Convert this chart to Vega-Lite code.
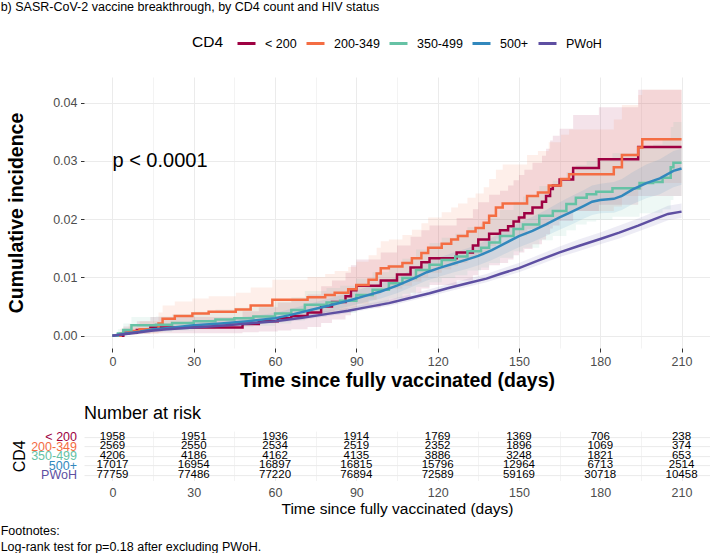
{
  "$schema": "https://vega.github.io/schema/vega-lite/v6.json",
  "background": "white",
  "padding": 0,
  "config": {
    "font": "Liberation Sans",
    "view": {"stroke": null},
    "axis": {"domain": false, "labelFont": "Liberation Sans", "titleFont": "Liberation Sans"},
    "legend": {"labelFont": "Liberation Sans", "titleFont": "Liberation Sans", "layout": {"top": {"anchor": "middle"}}},
    "title": {"font": "Liberation Sans"}
  },
  "title": {"text": "b) SASR-CoV-2 vaccine breakthrough, by CD4 count and HIV status", "anchor": "start", "frame": "bounds", "fontSize": 12.5, "fontWeight": "normal", "color": "#000000", "offset": 20, "dx": 0},
  "datasets": {
    "km": [
      {"g":"< 200","t":0,"v":0,"lo":0,"hi":0},
      {"g":"< 200","t":4,"v":0.0005,"lo":0.00015,"hi":0.0016},
      {"g":"< 200","t":9,"v":0.001,"lo":0.0003,"hi":0.0025},
      {"g":"< 200","t":14,"v":0.0014,"lo":0.00042,"hi":0.0032},
      {"g":"< 200","t":48,"v":0.002,"lo":0.0006,"hi":0.0042},
      {"g":"< 200","t":54,"v":0.0025,"lo":0.00075,"hi":0.0049},
      {"g":"< 200","t":61,"v":0.003,"lo":0.0009,"hi":0.0057},
      {"g":"< 200","t":66,"v":0.0034,"lo":0.0011,"hi":0.0062},
      {"g":"< 200","t":72,"v":0.004,"lo":0.0015,"hi":0.0071},
      {"g":"< 200","t":77,"v":0.005,"lo":0.0022,"hi":0.0085},
      {"g":"< 200","t":81,"v":0.0058,"lo":0.0028,"hi":0.0095},
      {"g":"< 200","t":86,"v":0.0068,"lo":0.0035,"hi":0.0108},
      {"g":"< 200","t":88,"v":0.0078,"lo":0.0043,"hi":0.0121},
      {"g":"< 200","t":90,"v":0.0086,"lo":0.0049,"hi":0.0131},
      {"g":"< 200","t":99,"v":0.0095,"lo":0.0056,"hi":0.0143},
      {"g":"< 200","t":105,"v":0.0105,"lo":0.0064,"hi":0.0155},
      {"g":"< 200","t":110,"v":0.0117,"lo":0.0074,"hi":0.017},
      {"g":"< 200","t":114,"v":0.0126,"lo":0.0081,"hi":0.0181},
      {"g":"< 200","t":117,"v":0.0133,"lo":0.0087,"hi":0.0189},
      {"g":"< 200","t":127,"v":0.0143,"lo":0.0095,"hi":0.0202},
      {"g":"< 200","t":133,"v":0.0155,"lo":0.0104,"hi":0.0217},
      {"g":"< 200","t":135,"v":0.0165,"lo":0.0113,"hi":0.0229},
      {"g":"< 200","t":139,"v":0.0175,"lo":0.0121,"hi":0.0242},
      {"g":"< 200","t":143,"v":0.0181,"lo":0.0125,"hi":0.0249},
      {"g":"< 200","t":146,"v":0.0188,"lo":0.0131,"hi":0.0258},
      {"g":"< 200","t":148,"v":0.0196,"lo":0.0138,"hi":0.0267},
      {"g":"< 200","t":150,"v":0.0203,"lo":0.0143,"hi":0.0276},
      {"g":"< 200","t":152,"v":0.021,"lo":0.0149,"hi":0.0285},
      {"g":"< 200","t":155,"v":0.022,"lo":0.0157,"hi":0.0297},
      {"g":"< 200","t":158.5,"v":0.023,"lo":0.0165,"hi":0.0309},
      {"g":"< 200","t":160,"v":0.024,"lo":0.0174,"hi":0.0321},
      {"g":"< 200","t":161.5,"v":0.0252,"lo":0.0184,"hi":0.0335},
      {"g":"< 200","t":162.5,"v":0.0258,"lo":0.0189,"hi":0.0343},
      {"g":"< 200","t":165,"v":0.0268,"lo":0.0197,"hi":0.0355},
      {"g":"< 200","t":170,"v":0.0288,"lo":0.0214,"hi":0.0379},
      {"g":"< 200","t":179.5,"v":0.0303,"lo":0.0225,"hi":0.0392},
      {"g":"< 200","t":194,"v":0.0324,"lo":0.024,"hi":0.0422},
      {"g":"< 200","t":210,"v":0.0324,"lo":0.0236,"hi":0.0422},
      {"g":"200-349","t":0,"v":0,"lo":0,"hi":0},
      {"g":"200-349","t":3,"v":0.0004,"lo":0.00012,"hi":0.00125},
      {"g":"200-349","t":6,"v":0.0008,"lo":0.00024,"hi":0.002},
      {"g":"200-349","t":10,"v":0.0011,"lo":0.00033,"hi":0.0025},
      {"g":"200-349","t":17,"v":0.0021,"lo":0.0006,"hi":0.004},
      {"g":"200-349","t":18.5,"v":0.0029,"lo":0.001,"hi":0.0052},
      {"g":"200-349","t":23,"v":0.0034,"lo":0.0014,"hi":0.0059},
      {"g":"200-349","t":29.5,"v":0.0038,"lo":0.0017,"hi":0.0064},
      {"g":"200-349","t":35.5,"v":0.0041,"lo":0.0019,"hi":0.0068},
      {"g":"200-349","t":45.5,"v":0.0045,"lo":0.0022,"hi":0.0074},
      {"g":"200-349","t":51,"v":0.0052,"lo":0.0027,"hi":0.0083},
      {"g":"200-349","t":59,"v":0.0062,"lo":0.0035,"hi":0.0096},
      {"g":"200-349","t":72,"v":0.0066,"lo":0.0038,"hi":0.0101},
      {"g":"200-349","t":78.5,"v":0.007,"lo":0.0041,"hi":0.0106},
      {"g":"200-349","t":82,"v":0.0074,"lo":0.0044,"hi":0.0111},
      {"g":"200-349","t":87,"v":0.008,"lo":0.0049,"hi":0.0118},
      {"g":"200-349","t":90,"v":0.0087,"lo":0.0055,"hi":0.0127},
      {"g":"200-349","t":94.5,"v":0.0096,"lo":0.0062,"hi":0.0138},
      {"g":"200-349","t":97.5,"v":0.0107,"lo":0.0071,"hi":0.0151},
      {"g":"200-349","t":99,"v":0.0116,"lo":0.0079,"hi":0.0162},
      {"g":"200-349","t":102,"v":0.0119,"lo":0.0081,"hi":0.0165},
      {"g":"200-349","t":107,"v":0.0125,"lo":0.0086,"hi":0.0173},
      {"g":"200-349","t":110.5,"v":0.0133,"lo":0.0093,"hi":0.0182},
      {"g":"200-349","t":114,"v":0.0142,"lo":0.0101,"hi":0.0193},
      {"g":"200-349","t":116.5,"v":0.0151,"lo":0.0108,"hi":0.0203},
      {"g":"200-349","t":121.5,"v":0.0158,"lo":0.0114,"hi":0.0212},
      {"g":"200-349","t":125,"v":0.0165,"lo":0.012,"hi":0.022},
      {"g":"200-349","t":127.5,"v":0.0171,"lo":0.0125,"hi":0.0227},
      {"g":"200-349","t":131,"v":0.0179,"lo":0.0132,"hi":0.0237},
      {"g":"200-349","t":134,"v":0.0185,"lo":0.0137,"hi":0.0244},
      {"g":"200-349","t":137,"v":0.0194,"lo":0.0144,"hi":0.0255},
      {"g":"200-349","t":139,"v":0.0206,"lo":0.0154,"hi":0.0269},
      {"g":"200-349","t":141.5,"v":0.022,"lo":0.0167,"hi":0.0285},
      {"g":"200-349","t":144,"v":0.0227,"lo":0.0172,"hi":0.0294},
      {"g":"200-349","t":153,"v":0.024,"lo":0.0183,"hi":0.031},
      {"g":"200-349","t":157,"v":0.0246,"lo":0.0188,"hi":0.0317},
      {"g":"200-349","t":161,"v":0.0258,"lo":0.0198,"hi":0.0332},
      {"g":"200-349","t":165.5,"v":0.0269,"lo":0.0207,"hi":0.0345},
      {"g":"200-349","t":168.5,"v":0.0277,"lo":0.0214,"hi":0.0354},
      {"g":"200-349","t":185,"v":0.0289,"lo":0.0222,"hi":0.0371},
      {"g":"200-349","t":188,"v":0.031,"lo":0.024,"hi":0.0396},
      {"g":"200-349","t":194,"v":0.0323,"lo":0.025,"hi":0.0413},
      {"g":"200-349","t":195.5,"v":0.0337,"lo":0.0262,"hi":0.0422},
      {"g":"200-349","t":210,"v":0.0337,"lo":0.0262,"hi":0.0422},
      {"g":"350-499","t":0,"v":0,"lo":0,"hi":0},
      {"g":"350-499","t":2,"v":0.0004,"lo":0.00012,"hi":0.0011},
      {"g":"350-499","t":4,"v":0.001,"lo":0.0003,"hi":0.0021},
      {"g":"350-499","t":7,"v":0.0018,"lo":0.0006,"hi":0.0032},
      {"g":"350-499","t":16,"v":0.0019,"lo":0.0007,"hi":0.0033},
      {"g":"350-499","t":22,"v":0.0022,"lo":0.0009,"hi":0.0037},
      {"g":"350-499","t":30,"v":0.0025,"lo":0.0011,"hi":0.0041},
      {"g":"350-499","t":38,"v":0.0028,"lo":0.0014,"hi":0.0045},
      {"g":"350-499","t":45,"v":0.003,"lo":0.0015,"hi":0.0048},
      {"g":"350-499","t":52,"v":0.0033,"lo":0.0017,"hi":0.0052},
      {"g":"350-499","t":60,"v":0.0038,"lo":0.0021,"hi":0.0059},
      {"g":"350-499","t":66,"v":0.0044,"lo":0.0026,"hi":0.0066},
      {"g":"350-499","t":71,"v":0.0053,"lo":0.0033,"hi":0.0077},
      {"g":"350-499","t":79,"v":0.0057,"lo":0.0037,"hi":0.0082},
      {"g":"350-499","t":84,"v":0.006,"lo":0.0039,"hi":0.0086},
      {"g":"350-499","t":90,"v":0.007,"lo":0.0047,"hi":0.0098},
      {"g":"350-499","t":96,"v":0.0079,"lo":0.0055,"hi":0.0109},
      {"g":"350-499","t":102,"v":0.009,"lo":0.0064,"hi":0.0122},
      {"g":"350-499","t":107,"v":0.0099,"lo":0.0072,"hi":0.0132},
      {"g":"350-499","t":112,"v":0.0113,"lo":0.0084,"hi":0.0148},
      {"g":"350-499","t":117,"v":0.0122,"lo":0.0092,"hi":0.0159},
      {"g":"350-499","t":121.5,"v":0.013,"lo":0.0099,"hi":0.0168},
      {"g":"350-499","t":126.5,"v":0.0136,"lo":0.0104,"hi":0.0175},
      {"g":"350-499","t":131,"v":0.0145,"lo":0.0112,"hi":0.0186},
      {"g":"350-499","t":136,"v":0.0151,"lo":0.0117,"hi":0.0193},
      {"g":"350-499","t":139,"v":0.016,"lo":0.0125,"hi":0.0203},
      {"g":"350-499","t":143,"v":0.0171,"lo":0.0134,"hi":0.0216},
      {"g":"350-499","t":148,"v":0.0183,"lo":0.0145,"hi":0.023},
      {"g":"350-499","t":151.5,"v":0.0191,"lo":0.0151,"hi":0.0239},
      {"g":"350-499","t":157.5,"v":0.0206,"lo":0.0164,"hi":0.0257},
      {"g":"350-499","t":162.5,"v":0.0214,"lo":0.0171,"hi":0.0266},
      {"g":"350-499","t":167.5,"v":0.0226,"lo":0.0181,"hi":0.0281},
      {"g":"350-499","t":171,"v":0.0237,"lo":0.0191,"hi":0.0293},
      {"g":"350-499","t":175,"v":0.0243,"lo":0.0196,"hi":0.03},
      {"g":"350-499","t":178.5,"v":0.0247,"lo":0.0199,"hi":0.0305},
      {"g":"350-499","t":184.5,"v":0.0253,"lo":0.0204,"hi":0.0313},
      {"g":"350-499","t":194.5,"v":0.0262,"lo":0.021,"hi":0.0325},
      {"g":"350-499","t":199.5,"v":0.0264,"lo":0.0211,"hi":0.0328},
      {"g":"350-499","t":203,"v":0.0271,"lo":0.0217,"hi":0.0337},
      {"g":"350-499","t":206,"v":0.0289,"lo":0.0233,"hi":0.0358},
      {"g":"350-499","t":207,"v":0.0297,"lo":0.024,"hi":0.0367},
      {"g":"350-499","t":210,"v":0.0297,"lo":0.024,"hi":0.0367},
      {"g":"500+","t":0,"v":0,"lo":0,"hi":0},
      {"g":"500+","t":5,"v":0.0004,"lo":0.00013,"hi":0.0007},
      {"g":"500+","t":10,"v":0.0007,"lo":0.0003,"hi":0.0012},
      {"g":"500+","t":15,"v":0.0011,"lo":0.0006,"hi":0.0016},
      {"g":"500+","t":20,"v":0.0013,"lo":0.0008,"hi":0.0019},
      {"g":"500+","t":30,"v":0.0018,"lo":0.0012,"hi":0.0025},
      {"g":"500+","t":40,"v":0.0021,"lo":0.0015,"hi":0.0029},
      {"g":"500+","t":50,"v":0.0025,"lo":0.0018,"hi":0.0033},
      {"g":"500+","t":60,"v":0.003,"lo":0.0023,"hi":0.0039},
      {"g":"500+","t":65,"v":0.0035,"lo":0.0027,"hi":0.0045},
      {"g":"500+","t":72,"v":0.0043,"lo":0.0034,"hi":0.0054},
      {"g":"500+","t":80,"v":0.0052,"lo":0.0042,"hi":0.0064},
      {"g":"500+","t":87,"v":0.006,"lo":0.005,"hi":0.0073},
      {"g":"500+","t":93,"v":0.0068,"lo":0.0057,"hi":0.0082},
      {"g":"500+","t":99,"v":0.0076,"lo":0.0064,"hi":0.009},
      {"g":"500+","t":105,"v":0.0086,"lo":0.0073,"hi":0.0101},
      {"g":"500+","t":111,"v":0.0098,"lo":0.0085,"hi":0.0114},
      {"g":"500+","t":116,"v":0.0109,"lo":0.0095,"hi":0.0126},
      {"g":"500+","t":121,"v":0.0117,"lo":0.0102,"hi":0.0135},
      {"g":"500+","t":126,"v":0.0124,"lo":0.0109,"hi":0.0143},
      {"g":"500+","t":131,"v":0.0131,"lo":0.0115,"hi":0.015},
      {"g":"500+","t":135,"v":0.0137,"lo":0.0121,"hi":0.0157},
      {"g":"500+","t":140,"v":0.0147,"lo":0.013,"hi":0.0168},
      {"g":"500+","t":145,"v":0.0159,"lo":0.0141,"hi":0.0181},
      {"g":"500+","t":150,"v":0.0171,"lo":0.0152,"hi":0.0194},
      {"g":"500+","t":155,"v":0.018,"lo":0.0161,"hi":0.0204},
      {"g":"500+","t":160,"v":0.0191,"lo":0.0171,"hi":0.0216},
      {"g":"500+","t":165,"v":0.0203,"lo":0.0182,"hi":0.0229},
      {"g":"500+","t":170,"v":0.0214,"lo":0.0192,"hi":0.0241},
      {"g":"500+","t":174,"v":0.0223,"lo":0.0201,"hi":0.025},
      {"g":"500+","t":177,"v":0.023,"lo":0.0207,"hi":0.0258},
      {"g":"500+","t":180,"v":0.0233,"lo":0.021,"hi":0.0261},
      {"g":"500+","t":185,"v":0.0235,"lo":0.0211,"hi":0.0264},
      {"g":"500+","t":188,"v":0.024,"lo":0.0216,"hi":0.0269},
      {"g":"500+","t":192,"v":0.0251,"lo":0.0226,"hi":0.0281},
      {"g":"500+","t":197,"v":0.0262,"lo":0.0236,"hi":0.0294},
      {"g":"500+","t":202,"v":0.027,"lo":0.0243,"hi":0.0303},
      {"g":"500+","t":207,"v":0.0283,"lo":0.0255,"hi":0.0317},
      {"g":"500+","t":210,"v":0.0287,"lo":0.0259,"hi":0.0321},
      {"g":"PWoH","t":0,"v":0,"lo":0,"hi":0},
      {"g":"PWoH","t":5,"v":0.0003,"lo":0.0002,"hi":0.00043},
      {"g":"PWoH","t":10,"v":0.0006,"lo":0.00044,"hi":0.0008},
      {"g":"PWoH","t":15,"v":0.0009,"lo":0.0007,"hi":0.0011},
      {"g":"PWoH","t":20,"v":0.0011,"lo":0.0009,"hi":0.0014},
      {"g":"PWoH","t":30,"v":0.0014,"lo":0.0012,"hi":0.0017},
      {"g":"PWoH","t":40,"v":0.0017,"lo":0.0014,"hi":0.002},
      {"g":"PWoH","t":50,"v":0.0021,"lo":0.0018,"hi":0.0025},
      {"g":"PWoH","t":60,"v":0.0025,"lo":0.0022,"hi":0.0029},
      {"g":"PWoH","t":70,"v":0.0031,"lo":0.0027,"hi":0.0035},
      {"g":"PWoH","t":80,"v":0.0038,"lo":0.0034,"hi":0.0043},
      {"g":"PWoH","t":87,"v":0.0043,"lo":0.0039,"hi":0.0048},
      {"g":"PWoH","t":95,"v":0.005,"lo":0.0046,"hi":0.0056},
      {"g":"PWoH","t":102,"v":0.0056,"lo":0.0051,"hi":0.0062},
      {"g":"PWoH","t":109,"v":0.0064,"lo":0.0059,"hi":0.007},
      {"g":"PWoH","t":117,"v":0.0073,"lo":0.0068,"hi":0.008},
      {"g":"PWoH","t":124,"v":0.0082,"lo":0.0076,"hi":0.0089},
      {"g":"PWoH","t":131,"v":0.009,"lo":0.0084,"hi":0.0098},
      {"g":"PWoH","t":138,"v":0.0098,"lo":0.0092,"hi":0.0106},
      {"g":"PWoH","t":143,"v":0.0106,"lo":0.0099,"hi":0.0114},
      {"g":"PWoH","t":150,"v":0.0116,"lo":0.0109,"hi":0.0125},
      {"g":"PWoH","t":157,"v":0.0129,"lo":0.0121,"hi":0.0138},
      {"g":"PWoH","t":165,"v":0.0143,"lo":0.0135,"hi":0.0153},
      {"g":"PWoH","t":172,"v":0.0154,"lo":0.0145,"hi":0.0165},
      {"g":"PWoH","t":180,"v":0.0166,"lo":0.0157,"hi":0.0177},
      {"g":"PWoH","t":187,"v":0.0177,"lo":0.0167,"hi":0.0189},
      {"g":"PWoH","t":194,"v":0.0189,"lo":0.0179,"hi":0.0201},
      {"g":"PWoH","t":200,"v":0.02,"lo":0.0189,"hi":0.0213},
      {"g":"PWoH","t":205,"v":0.0209,"lo":0.0198,"hi":0.0223},
      {"g":"PWoH","t":210,"v":0.0213,"lo":0.0202,"hi":0.0227}
    ],
    "risk": [
      {"g":"< 200","t":0,"n":1958},{"g":"< 200","t":30,"n":1951},{"g":"< 200","t":60,"n":1936},{"g":"< 200","t":90,"n":1914},{"g":"< 200","t":120,"n":1769},{"g":"< 200","t":150,"n":1369},{"g":"< 200","t":180,"n":706},{"g":"< 200","t":210,"n":238},
      {"g":"200-349","t":0,"n":2569},{"g":"200-349","t":30,"n":2550},{"g":"200-349","t":60,"n":2534},{"g":"200-349","t":90,"n":2519},{"g":"200-349","t":120,"n":2352},{"g":"200-349","t":150,"n":1896},{"g":"200-349","t":180,"n":1069},{"g":"200-349","t":210,"n":374},
      {"g":"350-499","t":0,"n":4206},{"g":"350-499","t":30,"n":4186},{"g":"350-499","t":60,"n":4162},{"g":"350-499","t":90,"n":4135},{"g":"350-499","t":120,"n":3886},{"g":"350-499","t":150,"n":3248},{"g":"350-499","t":180,"n":1821},{"g":"350-499","t":210,"n":653},
      {"g":"500+","t":0,"n":17017},{"g":"500+","t":30,"n":16954},{"g":"500+","t":60,"n":16897},{"g":"500+","t":90,"n":16815},{"g":"500+","t":120,"n":15796},{"g":"500+","t":150,"n":12964},{"g":"500+","t":180,"n":6713},{"g":"500+","t":210,"n":2514},
      {"g":"PWoH","t":0,"n":77759},{"g":"PWoH","t":30,"n":77486},{"g":"PWoH","t":60,"n":77220},{"g":"PWoH","t":90,"n":76894},{"g":"PWoH","t":120,"n":72589},{"g":"PWoH","t":150,"n":59169},{"g":"PWoH","t":180,"n":30718},{"g":"PWoH","t":210,"n":10458}
    ],
    "pval": [{"label": "p < 0.0001"}]
  },
  "vconcat": [
    {
      "title": {"text": ["Footnotes:", "Log-rank test for p=0.18 after excluding PWoH."], "orient": "bottom", "anchor": "start", "frame": "bounds", "fontSize": 12.5, "fontWeight": "normal", "color": "#000000", "lineHeight": 16, "offset": 8, "dx": -6},
      "bounds": "flush",
      "spacing": 83.1,
      "vconcat": [
        {
          "width": 626,
          "height": 271,
          "layer": [
            {
              "data": {"name": "km"},
              "transform": [{"filter": "datum.g !== '500+' && datum.g !== 'PWoH'"}],
              "mark": {"type": "area", "interpolate": "step-after", "fillOpacity": 0.11},
              "encoding": {
                "x": {
                  "field": "t", "type": "quantitative",
                  "title": "Time since fully vaccinated (days)",
                  "scale": {"domain": [-10.5, 220.5], "nice": false, "zero": false},
                  "axis": {
                    "values": [0,15,30,45,60,75,90,105,120,135,150,165,180,195,210],
                    "format": "d",
                    "labelExpr": "datum.value % 30 === 0 ? datum.label : ''",
                    "labelOverlap": false, "labelFlush": false,
                    "grid": true,
                    "gridColor": {"condition": {"test": "datum.value % 30 === 0", "value": "#EBEBEB"}, "value": "#F3F3F3"},
                    "gridWidth": 1,
                    "tickSize": 4, "tickColor": "#333333",
                    "tickOpacity": {"condition": {"test": "datum.value % 30 === 0", "value": 1}, "value": 0},
                    "labelFontSize": 12.5, "labelColor": "#4D4D4D", "labelPadding": 3,
                    "titleFontSize": 19.5, "titleFontWeight": "bold", "titleColor": "#000000", "titlePadding": 4
                  }
                },
                "y": {
                  "field": "lo", "type": "quantitative", "title": "Cumulative incidence",
                  "scale": {"domain": [-0.0021, 0.0444], "nice": false, "zero": false},
                  "axis": {
                    "values": [0,0.005,0.01,0.015,0.02,0.025,0.03,0.035,0.04],
                    "labelExpr": "round(datum.value*200) % 2 === 0 ? format(datum.value, '.2f') : ''",
                    "labelOverlap": false, "labelFlush": false,
                    "grid": true,
                    "gridColor": {"condition": {"test": "round(datum.value*200) % 2 === 0", "value": "#EBEBEB"}, "value": "#F3F3F3"},
                    "gridWidth": 1,
                    "tickSize": 3.5, "tickColor": "#333333",
                    "tickOpacity": {"condition": {"test": "round(datum.value*200) % 2 === 0", "value": 1}, "value": 0},
                    "labelFontSize": 12.5, "labelColor": "#4D4D4D", "labelPadding": 3.5,
                    "titleFontSize": 19.5, "titleFontWeight": "bold", "titleColor": "#000000", "titlePadding": 26
                  }
                },
                "y2": {"field": "hi"},
                "fill": {"field": "g", "type": "nominal", "legend": null,
                  "scale": {"range": ["#F46D43","#66C2A5","#3288BD","#9E0142","#5E4FA2"]}}
              }
            },
            {
              "data": {"name": "km"},
              "transform": [{"filter": "datum.g === '500+' || datum.g === 'PWoH'"}],
              "mark": {"type": "area", "interpolate": "linear", "fillOpacity": 0.11},
              "encoding": {
                "x": {"field": "t", "type": "quantitative", "title": "Time since fully vaccinated (days)"},
                "y": {"field": "lo", "type": "quantitative", "title": "Cumulative incidence"},
                "y2": {"field": "hi"},
                "fill": {"field": "g", "type": "nominal", "legend": null,
                  "scale": {"range": ["#F46D43","#66C2A5","#3288BD","#9E0142","#5E4FA2"]}}
              }
            },
            {
              "data": {"name": "km"},
              "transform": [{"filter": "datum.g !== '500+' && datum.g !== 'PWoH'"}],
              "mark": {"type": "line", "interpolate": "step-after", "strokeWidth": 2.5},
              "encoding": {
                "x": {"field": "t", "type": "quantitative", "title": "Time since fully vaccinated (days)"},
                "y": {"field": "v", "type": "quantitative", "title": "Cumulative incidence"},
                "color": {"field": "g", "type": "nominal",
                  "scale": {"domain": ["< 200","200-349","350-499","500+","PWoH"], "range": ["#9E0142","#F46D43","#66C2A5","#3288BD","#5E4FA2"]},
                  "legend": {"orient": "top", "offset": 26.5, "direction": "horizontal", "title": "CD4", "titleOrient": "left", "titleFontSize": 15.5, "titleFontWeight": "normal", "titleColor": "#000000", "titlePadding": 12, "labelFontSize": 12.5, "labelColor": "#000000", "symbolType": "stroke", "symbolSize": 324, "symbolStrokeWidth": 3, "labelOffset": 8, "columnPadding": 3}
                }
              }
            },
            {
              "data": {"name": "km"},
              "transform": [{"filter": "datum.g === '500+' || datum.g === 'PWoH'"}],
              "mark": {"type": "line", "interpolate": "linear", "strokeWidth": 2.5},
              "encoding": {
                "x": {"field": "t", "type": "quantitative", "title": "Time since fully vaccinated (days)"},
                "y": {"field": "v", "type": "quantitative", "title": "Cumulative incidence"},
                "color": {"field": "g", "type": "nominal",
                  "scale": {"domain": ["< 200","200-349","350-499","500+","PWoH"], "range": ["#9E0142","#F46D43","#66C2A5","#3288BD","#5E4FA2"]},
                  "legend": {"orient": "top", "offset": 26.5, "direction": "horizontal", "title": "CD4", "titleOrient": "left", "titleFontSize": 15.5, "titleFontWeight": "normal", "titleColor": "#000000", "titlePadding": 12, "labelFontSize": 12.5, "labelColor": "#000000", "symbolType": "stroke", "symbolSize": 324, "symbolStrokeWidth": 3, "labelOffset": 8, "columnPadding": 3}
                }
              }
            },
            {
              "data": {"name": "pval"},
              "mark": {"type": "text", "align": "left", "baseline": "middle", "fontSize": 20, "color": "#000000"},
              "encoding": {
                "x": {"datum": 0, "type": "quantitative"},
                "y": {"datum": 0.03, "type": "quantitative"},
                "text": {"field": "label", "type": "nominal"}
              }
            }
          ]
        },
        {
          "width": 626,
          "height": 49.4,
          "title": {"text": "Number at risk", "anchor": "start", "frame": "group", "fontSize": 18, "fontWeight": "normal", "color": "#000000", "offset": 8},
          "data": {"name": "risk"},
          "mark": {"type": "text", "fontSize": 11.5, "color": "#000000", "baseline": "middle", "align": "center"},
          "encoding": {
            "x": {
              "field": "t", "type": "quantitative",
              "title": "Time since fully vaccinated (days)",
              "scale": {"domain": [-10.5, 220.5], "nice": false, "zero": false},
              "axis": {
                "values": [0,15,30,45,60,75,90,105,120,135,150,165,180,195,210],
                "format": "d",
                "labelExpr": "datum.value % 30 === 0 ? datum.label : ''",
                "labelOverlap": false, "labelFlush": false,
                "grid": true,
                "gridColor": {"condition": {"test": "datum.value % 30 === 0", "value": "#EBEBEB"}, "value": "#F3F3F3"},
                "ticks": false,
                "labelFontSize": 12.5, "labelColor": "#4D4D4D", "labelPadding": 6,
                "titleFontSize": 15.5, "titleFontWeight": "normal", "titleColor": "#000000", "titlePadding": 2
              }
            },
            "y": {
              "field": "g", "type": "nominal", "title": "CD4",
              "scale": {"type": "point", "domain": ["< 200","200-349","350-499","500+","PWoH"], "padding": 0.6},
              "axis": {
                "grid": true, "gridColor": "#EBEBEB", "ticks": false,
                "labelFontSize": 12.5, "labelPadding": 7.5,
                "labelColor": {"condition": [
                  {"test": "datum.value === '< 200'", "value": "#9E0142"},
                  {"test": "datum.value === '200-349'", "value": "#F46D43"},
                  {"test": "datum.value === '350-499'", "value": "#66C2A5"},
                  {"test": "datum.value === '500+'", "value": "#3288BD"}
                ], "value": "#5E4FA2"},
                "titleFontSize": 16, "titleFontWeight": "normal", "titleColor": "#000000", "titlePadding": 3
              }
            },
            "text": {"field": "n", "type": "quantitative", "format": "d"}
          }
        }
      ]
    }
  ]
}
